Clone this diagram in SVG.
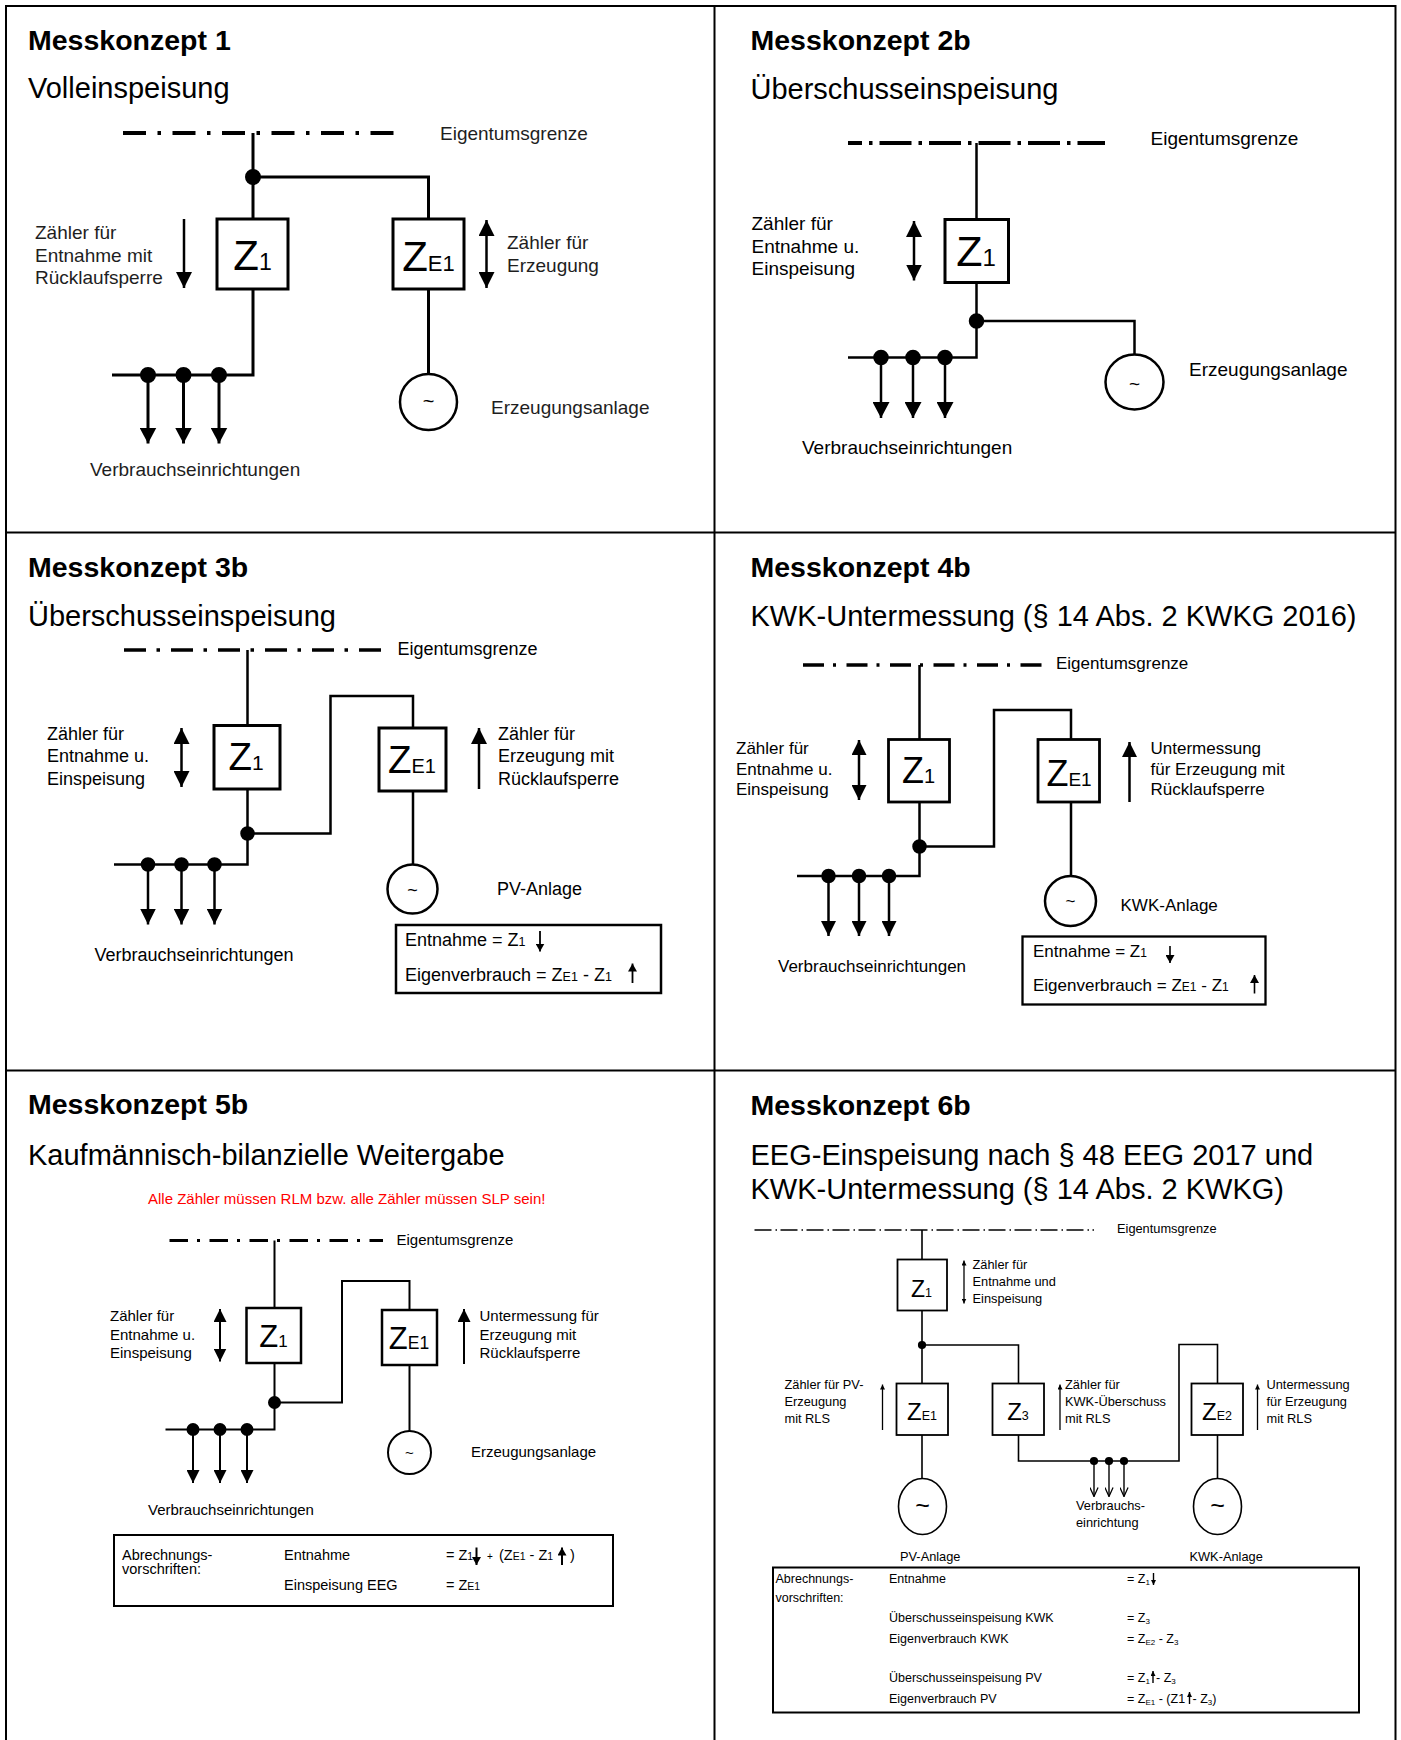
<svg xmlns="http://www.w3.org/2000/svg" width="1401" height="1740" viewBox="0 0 1401 1740">
<defs>
<style>
.t{font-family:"Liberation Sans",Arial,Helvetica,sans-serif;fill:#000}
.g1{fill:#1e1e1e}
.h{font-weight:bold;font-size:28.5px}
.st{font-size:29px}
.ln{fill:none;stroke:#000}
.box{fill:#fff;stroke:#000}
.dot{fill:#000}
.red{fill:#ff0000}
</style>
<marker id="a17" viewBox="0 0 10 10" refX="10" refY="5" markerWidth="16" markerHeight="17" markerUnits="userSpaceOnUse" orient="auto-start-reverse" preserveAspectRatio="none"><path d="M0 0L10 5L0 10Z" fill="#000"/></marker>
<marker id="a16" viewBox="0 0 10 10" refX="10" refY="5" markerWidth="16" markerHeight="16" markerUnits="userSpaceOnUse" orient="auto-start-reverse" preserveAspectRatio="none"><path d="M0 0L10 5L0 10Z" fill="#000"/></marker>
<marker id="a15" viewBox="0 0 10 10" refX="10" refY="5" markerWidth="15" markerHeight="15" markerUnits="userSpaceOnUse" orient="auto-start-reverse" preserveAspectRatio="none"><path d="M0 0L10 5L0 10Z" fill="#000"/></marker>
<marker id="a13" viewBox="0 0 10 10" refX="10" refY="5" markerWidth="13" markerHeight="13" markerUnits="userSpaceOnUse" orient="auto-start-reverse" preserveAspectRatio="none"><path d="M0 0L10 5L0 10Z" fill="#000"/></marker>
<marker id="af" viewBox="0 0 10 10" refX="10" refY="5" markerWidth="8" markerHeight="9" markerUnits="userSpaceOnUse" orient="auto-start-reverse" preserveAspectRatio="none"><path d="M0 0L10 5L0 10Z" fill="#000"/></marker>
<marker id="a5" viewBox="0 0 10 10" refX="10" refY="5" markerWidth="5" markerHeight="5" markerUnits="userSpaceOnUse" orient="auto-start-reverse" preserveAspectRatio="none"><path d="M0 0L10 5L0 10Z" fill="#000"/></marker>
<marker id="av" viewBox="0 0 10 10" refX="9.5" refY="5" markerWidth="10" markerHeight="9" markerUnits="userSpaceOnUse" orient="auto" preserveAspectRatio="none"><path d="M0.5 0.5L9.5 5L0.5 9.5" fill="none" stroke="#000" stroke-width="1.4"/></marker>
</defs>
<rect width="1401" height="1740" fill="#fff"/>

<g id="frame" fill="none" stroke="#000" stroke-width="2">
<path d="M6 1740V6H1395.5V1740M714.5 6V1740M6 532.5H1395.5M6 1070.5H1395.5"/>
</g>

<!-- ================= Panel 1 ================= -->
<g id="panel-1">
<text class="t h" x="28" y="49.5">Messkonzept 1</text>
<text class="t st" x="28" y="97.5">Volleinspeisung</text>
<g id="p1-connectors" class="ln" stroke-width="3">
<path d="M123 133H396" stroke-width="4" stroke-dasharray="23 11.5 3.5 11.5"/>
<path d="M253 133V219M253 177H428.5V219M253 289V375H112M428.5 289V374"/>
<line x1="148" y1="375" x2="148" y2="443.5" marker-end="url(#a17)"/>
<line x1="183.5" y1="375" x2="183.5" y2="443.5" marker-end="url(#a17)"/>
<line x1="219" y1="375" x2="219" y2="443.5" marker-end="url(#a17)"/>
<line x1="184" y1="219" x2="184" y2="288" stroke-width="2.5" marker-end="url(#a16)"/>
<line x1="486.5" y1="220" x2="486.5" y2="288" stroke-width="2.5" marker-start="url(#a16)" marker-end="url(#a16)"/>
<circle class="dot" cx="253" cy="177" r="6.5"/>
<circle class="dot" cx="148" cy="375" r="6.5"/>
<circle class="dot" cx="183.5" cy="375" r="6.5"/>
<circle class="dot" cx="219" cy="375" r="6.5"/>
</g>
<g id="p1-grenze"><text class="t g1" x="440" y="140" font-size="19">Eigentumsgrenze</text></g>
<g id="p1-z1">
<rect class="box" x="217" y="219" width="71" height="70" stroke-width="3"/>
<text class="t" x="252.5" y="270" text-anchor="middle" font-size="42">Z<tspan font-size="23">1</tspan></text>
<text class="t g1" font-size="19"><tspan x="35" y="239">Zähler für</tspan><tspan x="35" y="261.5">Entnahme mit</tspan><tspan x="35" y="284">Rücklaufsperre</tspan></text>
</g>
<g id="p1-ze1">
<rect class="box" x="393" y="219" width="71" height="70" stroke-width="3"/>
<text class="t" x="428.5" y="271" text-anchor="middle" font-size="42">Z<tspan font-size="22">E1</tspan></text>
<text class="t g1" font-size="19"><tspan x="507" y="249">Zähler für</tspan><tspan x="507" y="272">Erzeugung</tspan></text>
</g>
<g id="p1-gen">
<ellipse class="ln" cx="428.5" cy="402" rx="28.5" ry="28" stroke-width="2.5"/>
<text class="t" x="428.5" y="408" text-anchor="middle" font-size="20">~</text>
<text class="t g1" x="491" y="414" font-size="19">Erzeugungsanlage</text>
</g>
<g id="p1-loads"><text class="t g1" x="90" y="476" font-size="19">Verbrauchseinrichtungen</text></g>
</g>

<!-- ================= Panel 2 ================= -->
<g id="panel-2">
<text class="t h" x="750.5" y="49.5">Messkonzept 2b</text>
<text class="t st" x="750.5" y="99">Überschusseinspeisung</text>
<g id="p2-connectors" class="ln" stroke-width="2.5">
<path d="M848 143H1105" stroke-width="4" stroke-dasharray="32 7 3.5 7" stroke-dashoffset="18"/>
<path d="M976.5 143V219.5M976.5 282.5V357.5H848M976.5 321H1134.5V354.5"/>
<line x1="881" y1="357.5" x2="881" y2="418" marker-end="url(#a17)"/>
<line x1="913" y1="357.5" x2="913" y2="418" marker-end="url(#a17)"/>
<line x1="945" y1="357.5" x2="945" y2="418" marker-end="url(#a17)"/>
<line x1="914" y1="221" x2="914" y2="280.5" marker-start="url(#a16)" marker-end="url(#a16)"/>
<circle class="dot" cx="976.5" cy="321" r="6.5"/>
<circle class="dot" cx="881" cy="357.5" r="6.5"/>
<circle class="dot" cx="913" cy="357.5" r="6.5"/>
<circle class="dot" cx="945" cy="357.5" r="6.5"/>
</g>
<g id="p2-grenze"><text class="t" x="1150.5" y="145" font-size="19">Eigentumsgrenze</text></g>
<g id="p2-z1">
<rect class="box" x="945" y="219.5" width="63.5" height="63" stroke-width="3"/>
<text class="t" x="976" y="265.5" text-anchor="middle" font-size="43">Z<tspan font-size="24">1</tspan></text>
<text class="t" font-size="19"><tspan x="751.5" y="229.5">Zähler für</tspan><tspan x="751.5" y="252.5">Entnahme u.</tspan><tspan x="751.5" y="275">Einspeisung</tspan></text>
</g>
<g id="p2-gen">
<ellipse class="ln" cx="1134.5" cy="382" rx="29" ry="27.5" stroke-width="2.5"/>
<text class="t" x="1134.5" y="390" text-anchor="middle" font-size="19">~</text>
<text class="t" x="1189" y="376" font-size="19">Erzeugungsanlage</text>
</g>
<g id="p2-loads"><text class="t" x="802" y="454" font-size="19">Verbrauchseinrichtungen</text></g>
</g>

<!-- ================= Panel 3 ================= -->
<g id="panel-3">
<text class="t h" x="28" y="577">Messkonzept 3b</text>
<text class="t st" x="28" y="625.5">Überschusseinspeisung</text>
<g id="p3-connectors" class="ln" stroke-width="2.5">
<path d="M124 650H381" stroke-width="3.5" stroke-dasharray="22 10.5 3.5 11"/>
<path d="M247.5 650V725.5M413 728V696H330.5V833.5H247.5M247.5 789V864.5H114M413 791V864.5"/>
<line x1="148" y1="864.5" x2="148" y2="924.5" marker-end="url(#a16)"/>
<line x1="181.5" y1="864.5" x2="181.5" y2="924.5" marker-end="url(#a16)"/>
<line x1="214.5" y1="864.5" x2="214.5" y2="924.5" marker-end="url(#a16)"/>
<line x1="181.5" y1="728" x2="181.5" y2="787" marker-start="url(#a16)" marker-end="url(#a16)"/>
<line x1="479" y1="789" x2="479" y2="728" marker-end="url(#a16)"/>
<circle class="dot" cx="247.5" cy="833.5" r="6"/>
<circle class="dot" cx="148" cy="864.5" r="6"/>
<circle class="dot" cx="181.5" cy="864.5" r="6"/>
<circle class="dot" cx="214.5" cy="864.5" r="6"/>
</g>
<g id="p3-grenze"><text class="t" x="397.5" y="655" font-size="18">Eigentumsgrenze</text></g>
<g id="p3-z1">
<rect class="box" x="214" y="725.5" width="66" height="63.5" stroke-width="3"/>
<text class="t" x="246" y="770" text-anchor="middle" font-size="38.5">Z<tspan font-size="21">1</tspan></text>
<text class="t" font-size="18"><tspan x="47" y="740">Zähler für</tspan><tspan x="47" y="762">Entnahme u.</tspan><tspan x="47" y="784.5">Einspeisung</tspan></text>
</g>
<g id="p3-ze1">
<rect class="box" x="379" y="728" width="67" height="63" stroke-width="3"/>
<text class="t" x="412" y="772.5" text-anchor="middle" font-size="38.5">Z<tspan font-size="20">E1</tspan></text>
<text class="t" font-size="18"><tspan x="498" y="740">Zähler für</tspan><tspan x="498" y="762">Erzeugung mit</tspan><tspan x="498" y="784.5">Rücklaufsperre</tspan></text>
</g>
<g id="p3-gen">
<ellipse class="ln" cx="412.5" cy="889" rx="25" ry="24.5" stroke-width="2.5"/>
<text class="t" x="412.5" y="896" text-anchor="middle" font-size="18">~</text>
<text class="t" x="497" y="895" font-size="18">PV-Anlage</text>
</g>
<g id="p3-loads"><text class="t" x="94.5" y="961" font-size="18">Verbrauchseinrichtungen</text></g>
<g id="p3-formula">
<rect x="396" y="925" width="265" height="68" fill="#fff" stroke="#000" stroke-width="2.5"/>
<text class="t" x="405" y="945.5" font-size="18">Entnahme = Z<tspan font-size="12.5">1</tspan></text>
<line x1="540" y1="931" x2="540" y2="951.5" stroke="#000" stroke-width="1.8" marker-end="url(#af)"/>
<text class="t" x="405" y="981" font-size="18">Eigenverbrauch = Z<tspan font-size="12.5">E1</tspan> - Z<tspan font-size="12.5">1</tspan></text>
<line x1="632.5" y1="983" x2="632.5" y2="963.5" stroke="#000" stroke-width="1.8" marker-end="url(#af)"/>
</g>
</g>

<!-- ================= Panel 4 ================= -->
<g id="panel-4">
<text class="t h" x="750.5" y="577">Messkonzept 4b</text>
<text class="t st" x="750.5" y="625.5">KWK-Untermessung (§ 14 Abs. 2 KWKG 2016)</text>
<g id="p4-connectors" class="ln" stroke-width="2.5">
<path d="M803 665H1041.5" stroke-width="3.5" stroke-dasharray="21 9 3 10.5"/>
<path d="M919.5 665V739.5M1071 739.5V710H994V846.5H919.5M919.5 802V876H797M1071 802V876"/>
<line x1="828.5" y1="876" x2="828.5" y2="936" marker-end="url(#a15)"/>
<line x1="859" y1="876" x2="859" y2="936" marker-end="url(#a15)"/>
<line x1="889" y1="876" x2="889" y2="936" marker-end="url(#a15)"/>
<line x1="859" y1="740" x2="859" y2="800" marker-start="url(#a15)" marker-end="url(#a15)"/>
<line x1="1129.5" y1="802" x2="1129.5" y2="742" marker-end="url(#a15)"/>
<circle class="dot" cx="919.5" cy="846.5" r="6"/>
<circle class="dot" cx="828.5" cy="876" r="6"/>
<circle class="dot" cx="859" cy="876" r="6"/>
<circle class="dot" cx="889" cy="876" r="6"/>
</g>
<g id="p4-grenze"><text class="t" x="1056" y="669" font-size="17">Eigentumsgrenze</text></g>
<g id="p4-z1">
<rect class="box" x="888.5" y="739.5" width="61" height="62.5" stroke-width="2.8"/>
<text class="t" x="918.5" y="783" text-anchor="middle" font-size="36">Z<tspan font-size="20">1</tspan></text>
<text class="t" font-size="17"><tspan x="736" y="754">Zähler für</tspan><tspan x="736" y="775">Entnahme u.</tspan><tspan x="736" y="795">Einspeisung</tspan></text>
</g>
<g id="p4-ze1">
<rect class="box" x="1038" y="739.5" width="61.5" height="62.5" stroke-width="2.8"/>
<text class="t" x="1069" y="785.5" text-anchor="middle" font-size="36">Z<tspan font-size="19">E1</tspan></text>
<text class="t" font-size="17"><tspan x="1150.5" y="754">Untermessung</tspan><tspan x="1150.5" y="775">für Erzeugung mit</tspan><tspan x="1150.5" y="795">Rücklaufsperre</tspan></text>
</g>
<g id="p4-gen">
<ellipse class="ln" cx="1070.5" cy="901" rx="25.5" ry="25" stroke-width="2.5"/>
<text class="t" x="1070.5" y="907" text-anchor="middle" font-size="17">~</text>
<text class="t" x="1120.5" y="910.5" font-size="17">KWK-Anlage</text>
</g>
<g id="p4-loads"><text class="t" x="778" y="971.5" font-size="17">Verbrauchseinrichtungen</text></g>
<g id="p4-formula">
<rect x="1022.5" y="936.5" width="243" height="68" fill="#fff" stroke="#000" stroke-width="2.3"/>
<text class="t" x="1033" y="957" font-size="17">Entnahme = Z<tspan font-size="12">1</tspan></text>
<line x1="1170" y1="946" x2="1170" y2="963" stroke="#000" stroke-width="1.6" marker-end="url(#af)"/>
<text class="t" x="1033" y="990.5" font-size="17">Eigenverbrauch = Z<tspan font-size="12">E1</tspan> - Z<tspan font-size="12">1</tspan></text>
<line x1="1254.5" y1="993.5" x2="1254.5" y2="975" stroke="#000" stroke-width="1.6" marker-end="url(#af)"/>
</g>
</g>

<!-- ================= Panel 5 ================= -->
<g id="panel-5">
<text class="t h" x="28" y="1114">Messkonzept 5b</text>
<text class="t st" x="28" y="1164.5">Kaufmännisch-bilanzielle Weitergabe</text>
<text class="t red" x="148" y="1204" font-size="15">Alle Zähler müssen RLM bzw. alle Zähler müssen SLP sein!</text>
<g id="p5-connectors" class="ln" stroke-width="2">
<path d="M169.5 1240.5H383" stroke-width="3" stroke-dasharray="18.5 9 3 9.5"/>
<path d="M274.5 1240.5V1308M409.5 1310V1281H342V1402.5H274.5M274.5 1363V1429.5H165.5M409.5 1365V1431"/>
<line x1="193" y1="1429.5" x2="193" y2="1483" marker-end="url(#a13)"/>
<line x1="220" y1="1429.5" x2="220" y2="1483" marker-end="url(#a13)"/>
<line x1="247" y1="1429.5" x2="247" y2="1483" marker-end="url(#a13)"/>
<line x1="220" y1="1309" x2="220" y2="1361.5" marker-start="url(#a13)" marker-end="url(#a13)"/>
<line x1="464" y1="1364" x2="464" y2="1309" marker-end="url(#a13)"/>
<circle class="dot" cx="274.5" cy="1402.5" r="5.5"/>
<circle class="dot" cx="193" cy="1429.5" r="5.5"/>
<circle class="dot" cx="220" cy="1429.5" r="5.5"/>
<circle class="dot" cx="247" cy="1429.5" r="5.5"/>
</g>
<g id="p5-grenze"><text class="t" x="396.5" y="1244.5" font-size="15">Eigentumsgrenze</text></g>
<g id="p5-z1">
<rect class="box" x="246.5" y="1308" width="54.5" height="55" stroke-width="2.5"/>
<text class="t" x="273.5" y="1346.5" text-anchor="middle" font-size="31">Z<tspan font-size="17">1</tspan></text>
<text class="t" font-size="15"><tspan x="110" y="1321">Zähler für</tspan><tspan x="110" y="1339.5">Entnahme u.</tspan><tspan x="110" y="1357.5">Einspeisung</tspan></text>
</g>
<g id="p5-ze1">
<rect class="box" x="382" y="1310" width="55" height="55" stroke-width="2.5"/>
<text class="t" x="409" y="1348.5" text-anchor="middle" font-size="31">Z<tspan font-size="17.5">E1</tspan></text>
<text class="t" font-size="15"><tspan x="479.5" y="1321">Untermessung für</tspan><tspan x="479.5" y="1339.5">Erzeugung mit</tspan><tspan x="479.5" y="1357.5">Rücklaufsperre</tspan></text>
</g>
<g id="p5-gen">
<circle class="ln" cx="409.5" cy="1452.5" r="21.5" stroke-width="2"/>
<text class="t" x="409.5" y="1457.5" text-anchor="middle" font-size="15">~</text>
<text class="t" x="471" y="1457" font-size="15">Erzeugungsanlage</text>
</g>
<g id="p5-loads"><text class="t" x="148" y="1515" font-size="15">Verbrauchseinrichtungen</text></g>
<g id="p5-table">
<rect x="114" y="1535" width="499" height="71" fill="#fff" stroke="#000" stroke-width="2"/>
<text class="t" font-size="14.5"><tspan x="122" y="1560">Abrechnungs-</tspan><tspan x="122" y="1573.5">vorschriften:</tspan></text>
<text class="t" font-size="14.5"><tspan x="284" y="1560">Entnahme</tspan><tspan x="284" y="1590">Einspeisung EEG</tspan></text>
<text class="t" x="446" y="1560" font-size="14.5">= Z<tspan font-size="10.5">1</tspan></text>
<line x1="476.5" y1="1547.5" x2="476.5" y2="1565" stroke="#000" stroke-width="2" marker-end="url(#af)"/>
<text class="t" x="487" y="1560" font-size="10">+</text>
<text class="t" x="499" y="1560" font-size="14.5">(Z<tspan font-size="10.5">E1</tspan> - Z<tspan font-size="10.5">1</tspan></text>
<line x1="562" y1="1565" x2="562" y2="1547.5" stroke="#000" stroke-width="2" marker-end="url(#af)"/>
<text class="t" x="570" y="1560" font-size="14.5">)</text>
<text class="t" x="446" y="1590" font-size="14.5">= Z<tspan font-size="10.5">E1</tspan></text>
</g>
</g>

<!-- ================= Panel 6 ================= -->
<g id="panel-6">
<text class="t h" x="750.5" y="1114.5">Messkonzept 6b</text>
<text class="t st"><tspan x="750.5" y="1164.5">EEG-Einspeisung nach § 48 EEG 2017 und</tspan><tspan x="750.5" y="1198.5">KWK-Untermessung (§ 14 Abs. 2 KWKG)</tspan></text>
<g id="p6-connectors" class="ln" stroke-width="1.6">
<path d="M754.5 1230H1094" stroke-width="1.3" stroke-dasharray="17 4 1.5 3.5"/>
<path d="M922 1230V1259.5M922 1310.5V1383.5M922 1345H1018.5V1383.5M1217.5 1383.5V1344.5H1179V1461H1018.5V1435M922 1435V1478.5M1217.5 1435V1478.5"/>
<line x1="1094" y1="1461" x2="1094" y2="1496.5" stroke-width="1.4" marker-end="url(#av)"/>
<line x1="1109" y1="1461" x2="1109" y2="1496.5" stroke-width="1.4" marker-end="url(#av)"/>
<line x1="1124" y1="1461" x2="1124" y2="1496.5" stroke-width="1.4" marker-end="url(#av)"/>
<line x1="964" y1="1260.5" x2="964" y2="1303.5" stroke-width="1.3" marker-start="url(#a5)" marker-end="url(#a5)"/>
<line x1="882.5" y1="1430" x2="882.5" y2="1384.5" stroke-width="1.3" marker-end="url(#a5)"/>
<line x1="1060" y1="1430" x2="1060" y2="1384.5" stroke-width="1.3" marker-end="url(#a5)"/>
<line x1="1257.5" y1="1430" x2="1257.5" y2="1384.5" stroke-width="1.3" marker-end="url(#a5)"/>
<circle class="dot" cx="922" cy="1345" r="3.3"/>
<circle class="dot" cx="1094" cy="1461" r="3.3"/>
<circle class="dot" cx="1109" cy="1461" r="3.3"/>
<circle class="dot" cx="1124" cy="1461" r="3.3"/>
</g>
<g id="p6-grenze"><text class="t" x="1117" y="1233" font-size="12.8">Eigentumsgrenze</text></g>
<g id="p6-z1">
<rect class="box" x="897.5" y="1259.5" width="49.5" height="51" stroke-width="1.8"/>
<text class="t" x="921.5" y="1296.5" text-anchor="middle" font-size="23">Z<tspan font-size="12.5">1</tspan></text>
<text class="t" font-size="12.8"><tspan x="972.5" y="1268.5">Zähler für</tspan><tspan x="972.5" y="1285.5">Entnahme und</tspan><tspan x="972.5" y="1302.5">Einspeisung</tspan></text>
</g>
<g id="p6-ze1">
<rect class="box" x="896.5" y="1383.5" width="51.5" height="51.5" stroke-width="1.8"/>
<text class="t" x="922" y="1420" text-anchor="middle" font-size="24">Z<tspan font-size="12.5">E1</tspan></text>
<text class="t" font-size="12.8"><tspan x="784.5" y="1388.5">Zähler für PV-</tspan><tspan x="784.5" y="1405.5">Erzeugung</tspan><tspan x="784.5" y="1423">mit RLS</tspan></text>
</g>
<g id="p6-z3">
<rect class="box" x="992.5" y="1383.5" width="51.5" height="51.5" stroke-width="1.8"/>
<text class="t" x="1018" y="1420" text-anchor="middle" font-size="24">Z<tspan font-size="12.5">3</tspan></text>
<text class="t" font-size="12.8"><tspan x="1065" y="1388.5">Zähler für</tspan><tspan x="1065" y="1405.5">KWK-Überschuss</tspan><tspan x="1065" y="1423">mit RLS</tspan></text>
</g>
<g id="p6-ze2">
<rect class="box" x="1191.5" y="1383.5" width="51.5" height="51.5" stroke-width="1.8"/>
<text class="t" x="1217" y="1420" text-anchor="middle" font-size="24">Z<tspan font-size="12.5">E2</tspan></text>
<text class="t" font-size="12.8"><tspan x="1266.5" y="1388.5">Untermessung</tspan><tspan x="1266.5" y="1405.5">für Erzeugung</tspan><tspan x="1266.5" y="1423">mit RLS</tspan></text>
</g>
<g id="p6-pv">
<ellipse class="ln" cx="922.5" cy="1506.5" rx="24" ry="28" stroke-width="1.6"/>
<text class="t" x="922.5" y="1514" text-anchor="middle" font-size="25">~</text>
<text class="t" x="900" y="1561" font-size="12.8">PV-Anlage</text>
</g>
<g id="p6-kwk">
<ellipse class="ln" cx="1217.5" cy="1506.5" rx="24" ry="28" stroke-width="1.6"/>
<text class="t" x="1217.5" y="1514" text-anchor="middle" font-size="25">~</text>
<text class="t" x="1189.5" y="1561" font-size="12.8">KWK-Anlage</text>
</g>
<g id="p6-loads"><text class="t" font-size="12.8"><tspan x="1076" y="1510">Verbrauchs-</tspan><tspan x="1076" y="1527">einrichtung</tspan></text></g>
<g id="p6-table">
<rect x="773" y="1567.5" width="586" height="145" fill="#fff" stroke="#000" stroke-width="2"/>
<text class="t" font-size="12.5"><tspan x="775.5" y="1583">Abrechnungs-</tspan><tspan x="775.5" y="1602">vorschriften:</tspan></text>
<text class="t" font-size="12.5"><tspan x="889" y="1583">Entnahme</tspan><tspan x="889" y="1622">Überschusseinspeisung KWK</tspan><tspan x="889" y="1643">Eigenverbrauch KWK</tspan><tspan x="889" y="1682">Überschusseinspeisung PV</tspan><tspan x="889" y="1703">Eigenverbrauch PV</tspan></text>
<text class="t" x="1127" y="1583" font-size="12.5">= Z<tspan font-size="8" dy="2">1</tspan></text>
<line x1="1153.5" y1="1573" x2="1153.5" y2="1585" stroke="#000" stroke-width="1.4" marker-end="url(#a5)"/>
<text class="t" x="1127" y="1622" font-size="12.5">= Z<tspan font-size="8" dy="2">3</tspan></text>
<text class="t" x="1127" y="1643" font-size="12.5">= Z<tspan font-size="8" dy="2">E2</tspan><tspan dy="-2"> - Z</tspan><tspan font-size="8" dy="2">3</tspan></text>
<text class="t" x="1127" y="1682" font-size="12.5">= Z<tspan font-size="8" dy="2">1</tspan></text>
<line x1="1153" y1="1683" x2="1153" y2="1671" stroke="#000" stroke-width="1.4" marker-end="url(#a5)"/>
<text class="t" x="1156" y="1682" font-size="12.5">- Z<tspan font-size="8" dy="2">3</tspan></text>
<text class="t" x="1127" y="1703" font-size="12.5">= Z<tspan font-size="8" dy="2">E1</tspan><tspan dy="-2"> - (Z1</tspan></text>
<line x1="1189.5" y1="1704" x2="1189.5" y2="1692" stroke="#000" stroke-width="1.4" marker-end="url(#a5)"/>
<text class="t" x="1192.5" y="1703" font-size="12.5">- Z<tspan font-size="8" dy="2">3</tspan><tspan dy="-2">)</tspan></text>
</g>
</g>
</svg>
